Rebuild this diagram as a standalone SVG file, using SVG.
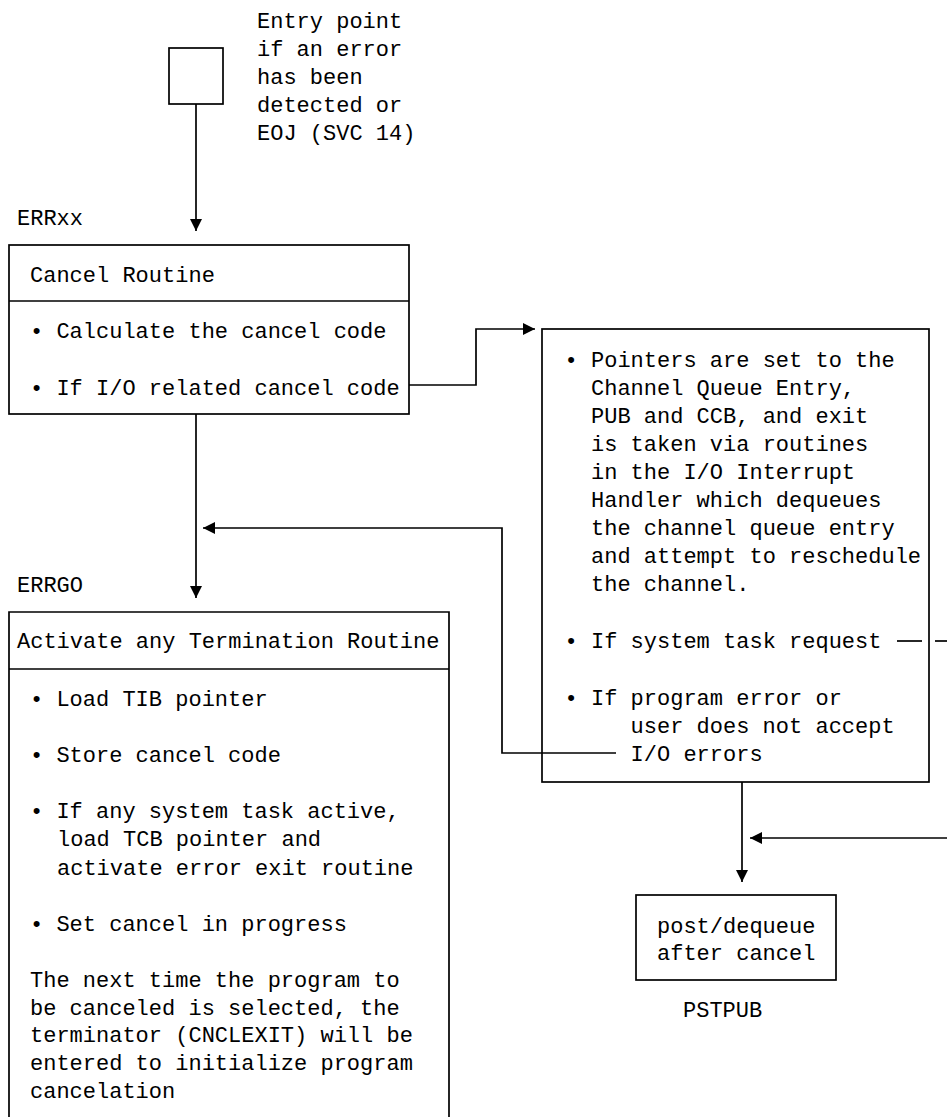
<svg xmlns="http://www.w3.org/2000/svg" width="947" height="1117" viewBox="0 0 947 1117">
<style>
text{font-family:"Liberation Mono","DejaVu Sans Mono",monospace;font-size:22px;fill:#000}
.b{fill:#fff;stroke:#000;stroke-width:1.7}
.c{fill:none;stroke:#000;stroke-width:1.7}
</style>
<defs>
<marker id="ah" markerWidth="12" markerHeight="12" refX="12" refY="6" orient="auto" markerUnits="userSpaceOnUse">
<path d="M0,0 L12,6 L0,12 Z" fill="#000"/>
</marker>
</defs>
<g id="entry">
<rect class="b" x="169" y="48" width="54" height="56"/>
<text x="257" y="28">Entry point</text>
<text x="257" y="56">if an error</text>
<text x="257" y="84">has been</text>
<text x="257" y="112">detected or</text>
<text x="257" y="140">EOJ (SVC 14)</text>
</g>
<g id="cancel">
<text x="17" y="225">ERRxx</text>
<rect class="b" x="9" y="245" width="400" height="169"/>
<line class="c" x1="9" y1="301" x2="409" y2="301"/>
<text x="30" y="282">Cancel Routine</text>
<text x="30" y="338">• Calculate the cancel code</text>
<text x="30" y="395">• If I/O related cancel code</text>
</g>
<g id="pointers">
<rect class="b" x="542" y="329" width="387" height="453"/>
<text x="564.6" y="367">• Pointers are set to the</text>
<text x="591" y="395">Channel Queue Entry,</text>
<text x="591" y="423">PUB and CCB, and exit</text>
<text x="591" y="451">is taken via routines</text>
<text x="591" y="479">in the I/O Interrupt</text>
<text x="591" y="507">Handler which dequeues</text>
<text x="591" y="535">the channel queue entry</text>
<text x="591" y="563">and attempt to reschedule</text>
<text x="591" y="591">the channel.</text>
<text x="564.6" y="648">• If system task request</text>
<text x="564.6" y="705">• If program error or</text>
<text x="630.6" y="733">user does not accept</text>
<text x="630.6" y="761">I/O errors</text>
</g>
<g id="errgo">
<text x="17" y="592">ERRGO</text>
<path class="b" d="M9,1117 V612 H449 V1117"/>
<line class="c" x1="9" y1="669" x2="449" y2="669"/>
<text x="17" y="648">Activate any Termination Routine</text>
<text x="30" y="706">• Load TIB pointer</text>
<text x="30" y="762">• Store cancel code</text>
<text x="30" y="818">• If any system task active,</text>
<text x="57" y="846">load TCB pointer and</text>
<text x="57" y="875">activate error exit routine</text>
<text x="30" y="931">• Set cancel in progress</text>
<text x="30" y="987">The next time the program to</text>
<text x="30" y="1015">be canceled is selected, the</text>
<text x="30" y="1042">terminator (CNCLEXIT) will be</text>
<text x="30" y="1070">entered to initialize program</text>
<text x="30" y="1098">cancelation</text>
</g>
<g id="post">
<rect class="b" x="636" y="895" width="200" height="85"/>
<text x="657" y="933">post/dequeue</text>
<text x="657" y="960">after cancel</text>
<text x="683" y="1017">PSTPUB</text>
</g>
<g id="connectors">
<line class="c" x1="196" y1="104" x2="196" y2="231" marker-end="url(#ah)"/>
<polyline class="c" points="409,385 476,385 476,329 535,329" marker-end="url(#ah)"/>
<line class="c" x1="196" y1="414" x2="196" y2="598" marker-end="url(#ah)"/>
<polyline class="c" points="616,753 502,753 502,528 203,528" marker-end="url(#ah)"/>
<line class="c" x1="897" y1="641" x2="922" y2="641"/>
<line class="c" x1="935" y1="641" x2="947" y2="641"/>
<line class="c" x1="742" y1="782" x2="742" y2="882" marker-end="url(#ah)"/>
<line class="c" x1="947" y1="838" x2="750" y2="838" marker-end="url(#ah)"/>
</g>
</svg>
